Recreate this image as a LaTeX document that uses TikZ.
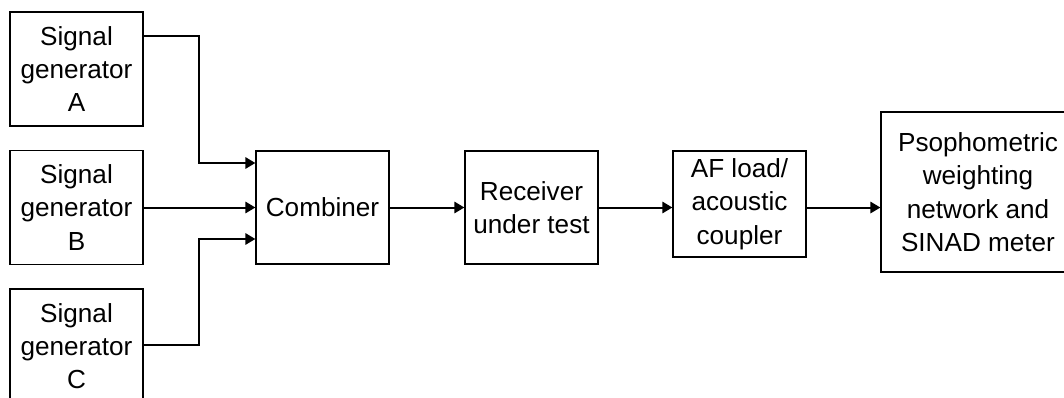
\documentclass[tikz,border=0pt]{standalone}
\usepackage{fontspec}
\setmainfont{Liberation Sans}
\usetikzlibrary{arrows.meta}

\begin{document}
\begin{tikzpicture}[x=0.75pt, y=-0.75pt, line width=1.5pt,
		>={Triangle[length=7.5pt,width=8.5pt]},
		block/.style={draw, line width=0.9pt, align=center, inner sep=0pt,
			minimum width=99.75pt, minimum height=85.5pt,
			font=\fontsize{19.6pt}{25pt}\selectfont}]
		\useasboundingbox (0,0) rectangle (1064,397);
		\clip (0,0) rectangle (1064,397);
		\node[block] (genA) at (76.5,69) {Signal\\generator\\A};
		\node[block] (genB) at (76.5,207.5) {Signal\\generator\\B};
		\node[block] (genC) at (76.5,346) {Signal\\generator\\C};
		\node[block, minimum height=84.75pt] (comb) at (322.5,207.5) {Combiner};
		\node[block, minimum height=84.75pt] (recv) at (531.5,207.5)
		{Receiver\\under test};
		\node[block, minimum height=79.5pt] (afload) at (739.5,204)
		{AF load/\\acoustic\\coupler};
		\node[block, minimum width=145.5pt, minimum height=120pt] (meter)
		at (978,192) {Psophometric\\weighting\\network and\\SINAD meter};
		\draw[->] (genA.east |- 0,36) -| (199,163) -- (comb.west |- 0,163);
		\draw[->] (genB) -- (comb);
		\draw[->] (genC.east |- 0,345) -| (199,239) -- (comb.west |- 0,239);
		\draw[->] (comb) -- (recv);
		\draw[->] (recv) -- (recv -| afload.west);
		\draw[->] (afload.east |- recv) -- (meter.west |- recv);
	\end{tikzpicture}
\end{document}
